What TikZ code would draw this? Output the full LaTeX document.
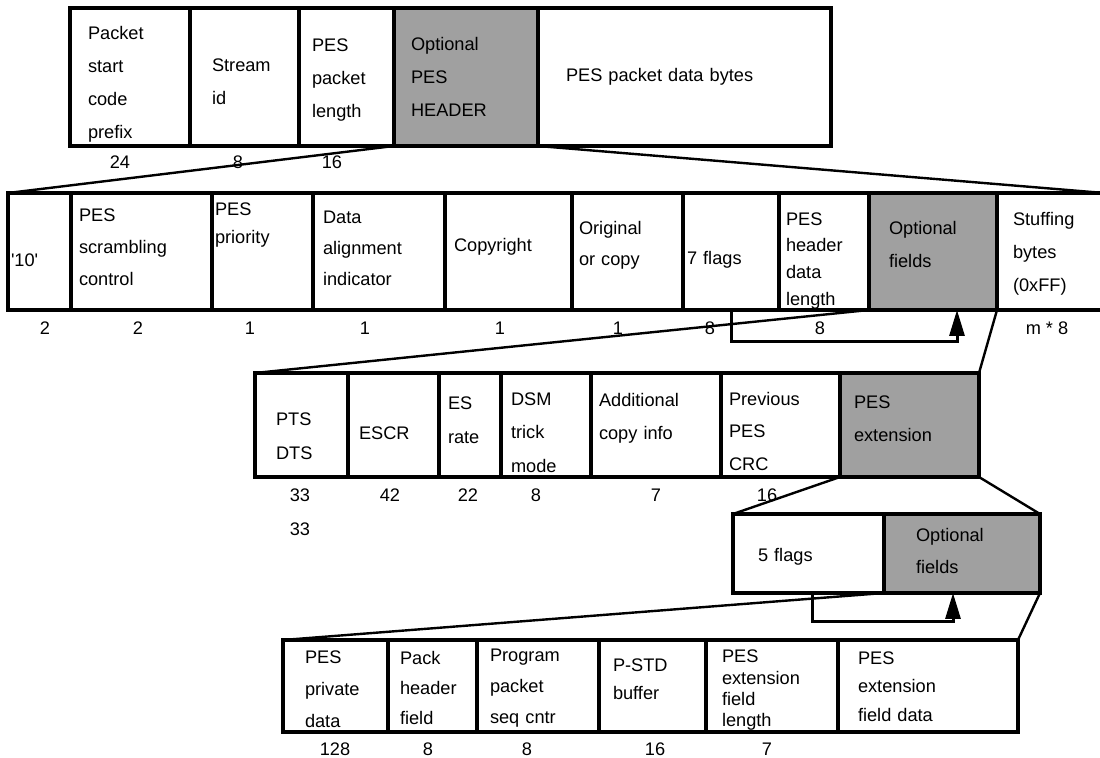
\documentclass[tikz,border=0pt]{standalone}
\usepackage{fontspec}
\setmainfont{Liberation Sans}
\usetikzlibrary{arrows.meta,positioning}
\definecolor{optgray}{HTML}{A0A0A0}

\begin{document}
\begin{tikzpicture}[
  x=0.5pt, y=-0.5pt,
  font=\fontsize{9.1}{16}\selectfont,
  field/.style 2 args={draw, line width=1.6pt, outer sep=0pt, align=left,
                       text width=#1, inner xsep=#2, inner ysep=0pt, text height=6.65pt},
  opt/.style={fill=optgray},
  lh/.style={font=\fontsize{9.1}{#1}\selectfont},
  rowa/.style={minimum height=69pt, lh=16.5},
  rowb/.style={minimum height=58.5pt},
  rowc/.style={minimum height=52pt, lh=16.75},
  rowd/.style={minimum height=39.5pt},
  rowe/.style={minimum height=46pt},
  bits/.style={inner sep=1pt},
  spread/.style={line width=1.2pt},
  repeatarrow/.style={line width=1.5pt, -{Triangle[length=13pt, width=7.5pt]}},
]
\useasboundingbox (0,0) rectangle (1100,758);

% PES packet
\node[field={42pt}{9pt}, rowa, text height=13.65pt, anchor=north west] (pktstart) at (70,8) {Packet\\start\\code\\prefix};
\node[field={32.5pt}{11pt}, rowa, text height=10.65pt, right=0pt of pktstart] (streamid) {Stream\\id};
\node[field={34.5pt}{6.5pt}, rowa, text height=9.65pt, right=0pt of streamid] (peslen) {PES\\packet\\length};
\node[field={55pt}{8.5pt}, rowa, opt, right=0pt of peslen] (opthdr) {Optional\\PES\\HEADER};
\node[field={118.5pt}{14pt}, rowa, right=0pt of opthdr] (pesdata) {PES packet data bytes};

\node[bits] (len-pktstart) at (120,162) {24};
\node[bits] (len-streamid) at (238,162) {8};
\node[bits] (len-peslen) at (332,162) {16};

% optional PES header
\node[field={28.5pt}{1.5pt}, rowb, text height=14.65pt, anchor=north west] (marker) at (8,193) {\textquotesingle 10\textquotesingle};
\node[field={62.5pt}{4pt}, rowb, text height=1.65pt, right=0pt of marker] (scramble) {PES\\scrambling\\control};
\node[field={47.5pt}{1.5pt}, rowb, lh=14, text depth=43pt, right=0pt of scramble] (priority) {PES\\priority};
\node[field={56pt}{5pt}, rowb, lh=15.5, text height=2.65pt, right=0pt of priority] (dataalign) {Data\\alignment\\indicator};
\node[field={54.5pt}{4.5pt}, rowb, text height=1.65pt, right=0pt of dataalign] (copyright) {Copyright};
\node[field={48.5pt}{3.5pt}, rowb, lh=15.5, text height=-1.35pt, right=0pt of copyright] (original) {Original\\or copy};
\node[field={44pt}{2pt}, rowb, text height=14.65pt, right=0pt of original] (sevenflags) {7 flags};
\node[field={38pt}{3.5pt}, rowb, lh=13.3, text height=15.65pt, right=0pt of sevenflags] (hdrlen) {PES\\header\\data\\length};
\node[field={44pt}{10pt}, rowb, opt, lh=16.5, text height=-0.35pt, right=0pt of hdrlen] (optfields) {Optional\\fields};
\node[field={37.5pt}{8pt}, rowb, lh=16.5, text height=8.65pt, right=0pt of optfields] (stuffing) {Stuffing\\bytes\\(0xFF)};

\node[bits] (len-marker) at (45,328) {2};
\node[bits] (len-scramble) at (138,328) {2};
\node[bits] (len-priority) at (250,328) {1};
\node[bits] (len-dataalign) at (365,328) {1};
\node[bits] (len-copyright) at (500,328) {1};
\node[bits] (len-original) at (618,328) {1};
\node[bits] (len-sevenflags) at (710,328) {8};
\node[bits] (len-hdrlen) at (820,328) {8};
\node[bits] (len-stuffing) at (1047,328) {m * 8};

% optional fields
\node[field={25.5pt}{10.5pt}, rowc, text height=17.65pt, anchor=north west] (ptsdts) at (255,373) {PTS\\DTS};
\node[field={34.5pt}{5.5pt}, rowc, text height=14.65pt, right=0pt of ptsdts] (escr) {ESCR};
\node[field={22pt}{4.5pt}, rowc, text height=1.65pt, right=0pt of escr] (esrate) {ES\\rate};
\node[field={35pt}{5pt}, rowc, text height=13.65pt, right=0pt of esrate] (dsm) {DSM\\trick\\mode};
\node[field={57pt}{4pt}, rowc, text height=-2.35pt, right=0pt of dsm] (addcopy) {Additional\\copy info};
\node[field={51.5pt}{4pt}, rowc, lh=16.25, text height=12.65pt, right=0pt of addcopy] (prevcrc) {Previous\\PES\\CRC};
\node[field={55.5pt}{7pt}, rowc, opt, text height=-2.35pt, right=0pt of prevcrc] (pesext) {PES\\extension};

\node[bits] (len-ptsdts) at (300,495) {33};
\node[bits] (len-escr) at (390,495) {42};
\node[bits] (len-esrate) at (468,495) {22};
\node[bits] (len-dsm) at (536,495) {8};
\node[bits] (len-addcopy) at (656,495) {7};
\node[bits] (len-prevcrc) at (767,495) {16};
\node[bits] (len-ptsdts2) at (300,529) {33};

% PES extension
\node[field={50.5pt}{12.5pt}, rowd, text height=9.65pt, anchor=north west] (fiveflags) at (733,514) {5 flags};
\node[field={46pt}{16pt}, rowd, opt, text height=3.65pt, right=0pt of fiveflags] (extfields) {Optional\\fields};

% extension fields
\node[field={30.5pt}{11pt}, rowe, text height=9.65pt, anchor=north west] (privdata) at (283,640) {PES\\private\\data};
\node[field={32.5pt}{6pt}, rowe, lh=15, text height=8.65pt, right=0pt of privdata] (packhdr) {Pack\\header\\field};
\node[field={48pt}{6.5pt}, rowe, lh=15.5, text height=8.65pt, right=0pt of packhdr] (seqcntr) {Program\\packet\\seq cntr};
\node[field={39.5pt}{7pt}, rowe, lh=14, text height=-5.35pt, right=0pt of seqcntr] (pstd) {P-STD\\buffer};
\node[field={50pt}{8pt}, rowe, lh=10.7, text height=10.65pt, right=0pt of pstd] (extlen) {PES\\extension\\field\\length};
\node[field={70pt}{10pt}, rowe, lh=14.25, right=0pt of extlen] (extdata) {PES\\extension\\field data};

\node[bits] (len-privdata) at (335,749) {128};
\node[bits] (len-packhdr) at (428,749) {8};
\node[bits] (len-seqcntr) at (527,749) {8};
\node[bits] (len-pstd) at (655,749) {16};
\node[bits] (len-extlen) at (767,749) {7};

% zoom lines
\draw[spread] (opthdr.south west) -- (marker.north west);
\draw[spread] (opthdr.south east) -- (stuffing.north east);
\draw[spread] (optfields.south west) -- (ptsdts.north west);
\draw[spread] (optfields.south east) -- (pesext.north east);
\draw[spread] (pesext.south west) -- (fiveflags.north west);
\draw[spread] (pesext.south east) -- (extfields.north east);
\draw[spread] (extfields.south west) -- (privdata.north west);
\draw[spread] (extfields.south east) -- (extdata.north east);

% length fields
\draw[repeatarrow] (sevenflags.south) -- ++(0,32) -| ([xshift=12pt]optfields.south);
\draw[repeatarrow] ([xshift=1.75pt]fiveflags.south) -- ++(0,29) -| ([xshift=-4.5pt]extfields.south);

\end{tikzpicture}
\end{document}
